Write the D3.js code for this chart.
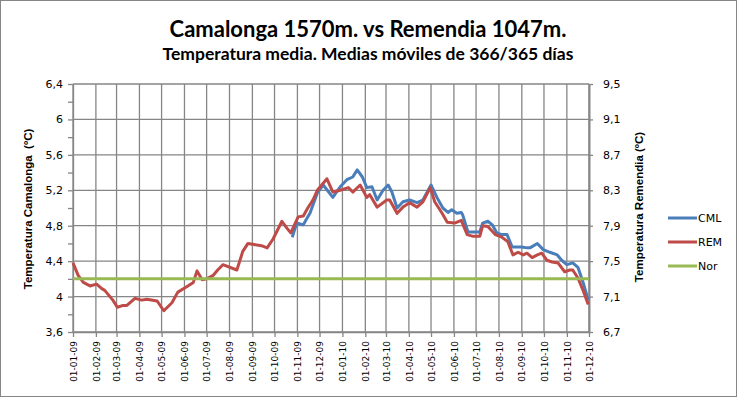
<!DOCTYPE html>
<html>
<head>
<meta charset="utf-8">
<script src="https://cdn.jsdelivr.net/npm/d3@7"></script>
<style>
  body { margin: 0; background: #fff; }
  .grid line { stroke: #868686; stroke-width: 1.3; }
  .axis path, .axis line { stroke: #868686; stroke-width: 1.3; }
  .axis text { fill: #000; font-family: "DejaVu Sans", sans-serif; }
  .atitle { font-family: "Liberation Sans", Arial, sans-serif; font-weight: bold; font-size: 11.5px; white-space: pre; }
  .legend text { font-family: "DejaVu Sans", sans-serif; font-size: 11px; fill: #000; }
</style>
</head>
<body>
<svg id="svg1"></svg>
<script>
// x axis labels (one per month)
var xTickLabels = ["01-01-09","01-02-09","01-03-09","01-04-09","01-05-09","01-06-09",
  "01-07-09","01-08-09","01-09-09","01-10-09","01-11-09","01-12-09",
  "01-01-10","01-02-10","01-03-10","01-04-10","01-05-10","01-06-10",
  "01-07-10","01-08-10","01-09-10","01-10-10","01-11-10","01-12-10"];
var leftTicks  = [3.6, 3.8, 4.0, 4.2, 4.4, 4.6, 4.8, 5.0, 5.2, 5.4, 5.6, 5.8, 6.0, 6.2, 6.4];
var leftMajor  = [3.6, 4.0, 4.4, 4.8, 5.2, 5.6, 6.0, 6.4];
var rightTicks = [6.7, 7.1, 7.5, 7.9, 8.3, 8.7, 9.1, 9.5];
var seriesNames = ["CML", "REM", "Nor"];

// REM - Remendia, secondary (right) axis
var remDates = ["2009-01-01","2009-01-08","2009-01-15","2009-01-24","2009-02-02","2009-02-09",
  "2009-02-13","2009-02-24","2009-03-02","2009-03-10","2009-03-15","2009-03-26","2009-04-04",
  "2009-04-11","2009-04-25","2009-05-04","2009-05-15","2009-05-23","2009-06-04","2009-06-13",
  "2009-06-18","2009-06-25","2009-07-01","2009-07-10","2009-07-16","2009-07-23","2009-08-11",
  "2009-08-19","2009-08-26","2009-09-15","2009-09-21","2009-09-29","2009-10-11","2009-10-18",
  "2009-10-23","2009-11-02","2009-11-09","2009-11-15","2009-11-22","2009-11-28","2009-12-11",
  "2009-12-19","2009-12-29","2010-01-09","2010-01-15","2010-01-25","2010-02-03","2010-02-07",
  "2010-02-17","2010-03-02","2010-03-06","2010-03-16","2010-03-24","2010-04-02","2010-04-12",
  "2010-04-20","2010-04-30","2010-05-06","2010-05-16","2010-05-23","2010-06-02","2010-06-11",
  "2010-06-19","2010-06-27","2010-07-06","2010-07-10","2010-07-17","2010-07-27","2010-08-05",
  "2010-08-13","2010-08-20","2010-08-27","2010-09-03","2010-09-08","2010-09-15","2010-09-22",
  "2010-09-28","2010-10-05","2010-10-12","2010-10-20","2010-10-29","2010-11-05","2010-11-09",
  "2010-11-16","2010-11-23","2010-11-30"];
var remValues = [7.48,7.34,7.26,7.22,7.24,7.19,
  7.17,7.06,6.98,7.00,7.00,7.08,7.06,
  7.07,7.05,6.94,7.03,7.15,7.21,7.26,
  7.39,7.29,7.30,7.34,7.40,7.46,7.40,
  7.61,7.70,7.67,7.65,7.75,7.95,7.87,
  7.82,8.00,8.01,8.10,8.19,8.30,8.43,
  8.28,8.30,8.33,8.28,8.36,8.22,8.25,
  8.11,8.19,8.19,8.04,8.11,8.16,8.11,
  8.17,8.33,8.17,8.04,7.94,7.93,7.96,
  7.80,7.78,7.78,7.90,7.89,7.80,7.77,
  7.72,7.57,7.60,7.57,7.59,7.54,7.57,
  7.59,7.51,7.49,7.48,7.38,7.40,7.40,
  7.31,7.17,7.01];

// CML - Camalonga, primary (left) axis
var cmlDates = ["2009-10-25","2009-10-31","2009-11-09","2009-11-15","2009-11-18","2009-11-28",
  "2009-12-06","2009-12-19","2009-12-29","2010-01-07","2010-01-15","2010-01-21","2010-01-28",
  "2010-02-03","2010-02-10","2010-02-17","2010-02-25","2010-03-04","2010-03-09","2010-03-16",
  "2010-03-24","2010-04-02","2010-04-12","2010-04-20","2010-05-01","2010-05-09","2010-05-17",
  "2010-05-24","2010-05-29","2010-06-05","2010-06-11","2010-06-13","2010-06-20","2010-06-27",
  "2010-07-06","2010-07-10","2010-07-17","2010-07-23","2010-07-29","2010-08-05","2010-08-12",
  "2010-08-19","2010-08-25","2010-09-01","2010-09-08","2010-09-12","2010-09-22","2010-09-30",
  "2010-10-09","2010-10-19","2010-10-25","2010-11-01","2010-11-09","2010-11-16","2010-11-23",
  "2010-11-30"];
var cmlValues = [4.67,4.83,4.81,4.90,4.94,5.17,
  5.26,5.12,5.24,5.32,5.35,5.43,5.35,
  5.23,5.24,5.09,5.20,5.26,5.18,5.00,
  5.07,5.09,5.06,5.09,5.26,5.12,5.00,
  4.95,4.98,4.94,4.95,4.92,4.73,4.73,
  4.73,4.83,4.85,4.81,4.72,4.70,4.70,
  4.56,4.56,4.56,4.55,4.55,4.60,4.53,
  4.50,4.47,4.41,4.36,4.38,4.33,4.16,
  3.96];

// Nor - reference value, left axis
var norDates = ["2009-01-01", "2010-12-01"];
var norValues = [4.2, 4.2];

var colors = {CML: "#4a7ebb", REM: "#be4b48", Nor: "#98b954"};

var margin = {top: 84, right: 149, bottom: 66, left: 73},
    width = 738 - margin.left - margin.right,
    height = 398 - margin.top - margin.bottom;

var svg0 = d3.select("#svg1")
  .attr("width", 738)
  .attr("height", 398);

// chart border
svg0.append("rect")
  .attr("x", 0.5).attr("y", 0.5)
  .attr("width", 736).attr("height", 396)
  .attr("fill", "#fff")
  .attr("stroke", "#868686");

var svg = svg0.append("g")
  .attr("transform", "translate(" + margin.left + "," + margin.top + ")");

var parseTick = d3.utcParse("%d-%m-%y"),
    parseDate = d3.utcParse("%Y-%m-%d");
var xTicks = xTickLabels.map(parseTick);

var x = d3.scaleUtc()
  .domain([xTicks[0], xTicks[xTicks.length - 1]])
  .range([0, width]);
var yL = d3.scaleLinear().domain([3.6, 6.4]).range([height, 0]);
var yR = d3.scaleLinear().domain([6.7, 9.5]).range([height, 0]);

function fmt(d) { return String(+d.toFixed(1)).replace(".", ","); }

// gridlines
svg.append("g").attr("class", "grid")
  .selectAll("line").data(xTicks).enter().append("line")
  .attr("x1", function(d) { return x(d); }).attr("x2", function(d) { return x(d); })
  .attr("y1", 0).attr("y2", height);
svg.append("g").attr("class", "grid")
  .selectAll("line").data(leftMajor).enter().append("line")
  .attr("x1", 0).attr("x2", width)
  .attr("y1", function(d) { return yL(d); }).attr("y2", function(d) { return yL(d); });

// X axis
var xAxis = svg.append("g").attr("class", "axis")
  .attr("transform", "translate(0," + height + ")")
  .call(d3.axisBottom(x).tickValues(xTicks).tickFormat(d3.utcFormat("%d-%m-%y")).tickSize(5).tickSizeOuter(0));
xAxis.selectAll("text")
  .style("font-size", "9px")
  .style("text-anchor", "end")
  .attr("transform", "rotate(-90)")
  .attr("x", -9).attr("y", 0).attr("dy", "0.35em");

// left axis
svg.append("g").attr("class", "axis")
  .call(d3.axisLeft(yL).tickValues(leftTicks).tickSize(5).tickSizeOuter(0)
    .tickFormat(function(d) { return leftMajor.some(function(m) { return Math.abs(m - d) < 1e-6; }) ? fmt(d) : ""; }))
  .selectAll("text").style("font-size", "11px").attr("x", -10);

// right axis
var rAxis = svg.append("g").attr("class", "axis")
  .attr("transform", "translate(" + width + ",0)")
  .call(d3.axisRight(yR).tickValues(rightTicks).tickSize(4).tickSizeOuter(0).tickFormat(fmt));
rAxis.select("path").style("stroke-width", 2);
rAxis.selectAll("text").style("font-size", "11px").attr("x", 14);

// axis titles
svg0.append("text").attr("class", "atitle")
  .attr("transform", "translate(32,209) rotate(-90)")
  .style("text-anchor", "middle")
  .text("Temperatura Camalonga  (ºC)");
svg0.append("text").attr("class", "atitle")
  .attr("transform", "translate(643,207) rotate(-90)")
  .style("text-anchor", "middle")
  .text("Temperatura Remendia (ºC)");

// titles
svg0.append("text")
  .attr("x", 368).attr("y", 37)
  .style("text-anchor", "middle")
  .style("font-family", "Lato, sans-serif").style("font-weight", "bold").style("font-size", "22px")
  .text("Camalonga 1570m. vs Remendia 1047m.");
svg0.append("text")
  .attr("x", 368).attr("y", 60)
  .style("text-anchor", "middle")
  .style("font-family", "Lato, sans-serif").style("font-weight", "bold").style("font-size", "17.5px")
  .text("Temperatura media. Medias móviles de 366/365 días");

// series
function toPoints(dates, values) {
  return dates.map(function(d, i) { return {date: parseDate(d), value: values[i]}; });
}
var lineL = d3.line().x(function(d) { return x(d.date); }).y(function(d) { return yL(d.value); });
var lineR = d3.line().x(function(d) { return x(d.date); }).y(function(d) { return yR(d.value); });

svg.append("path").datum(toPoints(cmlDates, cmlValues))
  .attr("d", lineL).attr("fill", "none")
  .attr("stroke", colors.CML).attr("stroke-width", 3).attr("stroke-linejoin", "round");
svg.append("path").datum(toPoints(remDates, remValues))
  .attr("d", lineR).attr("fill", "none")
  .attr("stroke", colors.REM).attr("stroke-width", 3).attr("stroke-linejoin", "round");
svg.append("path").datum(toPoints(norDates, norValues))
  .attr("d", lineL).attr("fill", "none")
  .attr("stroke", colors.Nor).attr("stroke-width", 3);

// legend
var legend = svg0.append("g").attr("class", "legend")
  .selectAll("g").data(seriesNames).enter().append("g")
  .attr("transform", function(d, i) { return "translate(668," + (218 + i * 24) + ")"; });
legend.append("line")
  .attr("x1", 0).attr("x2", 29).attr("y1", 0).attr("y2", 0)
  .attr("stroke", function(d) { return colors[d]; }).attr("stroke-width", 3);
legend.append("text")
  .attr("x", 30).attr("dy", "0.36em")
  .text(function(d) { return d; });
</script>
</body>
</html>
